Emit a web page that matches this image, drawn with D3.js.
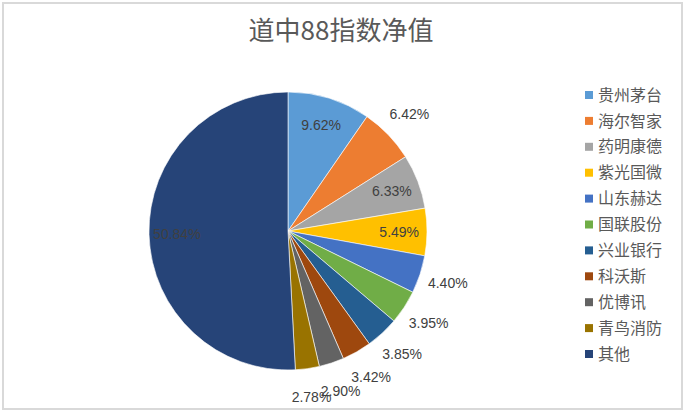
<!DOCTYPE html>
<html>
<head>
<meta charset="utf-8">
<script src="https://cdn.jsdelivr.net/npm/d3@7"></script>
<style>
  body { margin: 0; background: #fff; }
  svg text { font-family: "Noto Sans CJK SC", "Liberation Sans", sans-serif; }
</style>
</head>
<body>
<div id="chart"></div>
<script>
// data
var names = ["贵州茅台", "海尔智家", "药明康德", "紫光国微", "山东赫达", "国联股份", "兴业银行", "科沃斯", "优博讯", "青鸟消防", "其他"];
var weights = [9.62, 6.42, 6.33, 5.49, 4.40, 3.95, 3.85, 3.42, 2.90, 2.78, 50.84];
var colors = ["#5B9BD5", "#ED7D31", "#A5A5A5", "#FFC000", "#4472C4", "#70AD47", "#255E91", "#9E480E", "#636363", "#997300", "#264478"];
// which labels sit outside the pie (excel "best fit")
var labelOutside = [false, true, false, false, true, true, true, true, true, true, false];

var width = 684, height = 411;
var cx = 288, cy = 231, radius = 139;

var svg = d3.select("#chart").append("svg")
    .attr("width", width)
    .attr("height", height);

// frame
svg.append("rect")
    .attr("x", 3).attr("y", 3)
    .attr("width", width - 5).attr("height", height - 5)
    .attr("fill", "#fff")
    .attr("stroke", "#d9d9d9")
    .attr("stroke-width", 2);

svg.append("text")
    .attr("x", 341)
    .attr("y", 40)
    .attr("text-anchor", "middle")
    .attr("font-size", "26px")
    .attr("fill", "#595959")
    .text("道中88指数净值");

var pie = d3.pie().sort(null);
var arcs = pie(weights);

var arc = d3.arc().innerRadius(0).outerRadius(radius);
var inArc = d3.arc().innerRadius(radius * 0.8).outerRadius(radius * 0.8);
var outArc = d3.arc().innerRadius(radius * 1.21).outerRadius(radius * 1.21);

var g = svg.append("g").attr("transform", "translate(" + cx + "," + cy + ")");

g.selectAll("path")
    .data(arcs)
    .enter().append("path")
    .attr("d", arc)
    .attr("fill", function(d, i) { return colors[i]; })
    .attr("stroke", "#fff")
    .attr("stroke-width", 0.6);

g.selectAll("text.lbl")
    .data(arcs)
    .enter().append("text")
    .attr("class", "lbl")
    .attr("transform", function(d, i) {
        var p = labelOutside[i] ? outArc.centroid(d) : inArc.centroid(d);
        return "translate(" + p[0] + "," + p[1] + ")";
    })
    .attr("dy", "0.35em")
    .attr("text-anchor", "middle")
    .attr("font-size", "14px")
    .style("font-family", "'Liberation Sans', sans-serif")
    .attr("fill", "#404040")
    .text(function(d, i) { return weights[i].toFixed(2) + "%"; });

// legend
var legend = svg.append("g").attr("transform", "translate(585,95)");
var item = legend.selectAll("g")
    .data(names)
    .enter().append("g")
    .attr("transform", function(d, i) { return "translate(0," + (i * 25.9) + ")"; });

item.append("rect")
    .attr("x", 0).attr("y", -4)
    .attr("width", 8).attr("height", 8)
    .attr("fill", function(d, i) { return colors[i]; });

item.append("text")
    .attr("x", 13)
    .attr("dy", "0.35em")
    .attr("font-size", "16px")
    .attr("fill", "#595959")
    .text(function(d) { return d; });
</script>
</body>
</html>
